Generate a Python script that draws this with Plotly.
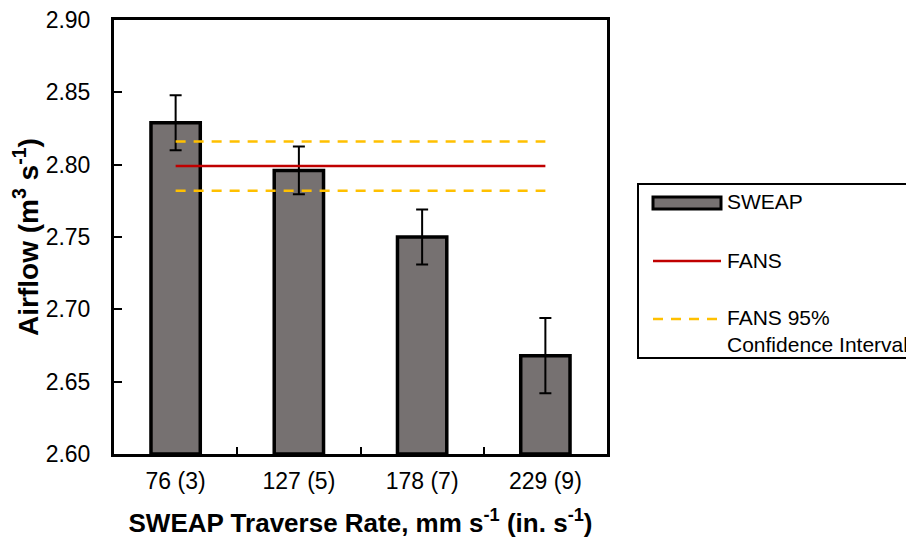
import plotly.graph_objects as go

# ---- data ----
categories = ["76 (3)", "127 (5)", "178 (7)", "229 (9)"]
sweap_airflow = [2.829, 2.796, 2.750, 2.668]
sweap_error = [0.019, 0.0165, 0.019, 0.026]
fans_mean = 2.799
fans_ci_upper = 2.816
fans_ci_lower = 2.782
y_ticks = [2.60, 2.65, 2.70, 2.75, 2.80, 2.85, 2.90]

FONT = "Arial, Liberation Sans, sans-serif"
BAR_FILL = "#767171"
RED = "#C00000"
GOLD = "#FFC000"

OFF = 8  # page body margin
W, H = 914 - OFF, 539 - OFF
# plot area in screen pixels: x 114..607, y 20..454
ML, MT = 114 - OFF, 20 - OFF
MR = W - (607 - OFF)
MB = H - (454 - OFF)
PW, PH = W - ML - MR, H - MT - MB


def px_x(sx):
    return (sx - OFF - ML) / PW


def px_y(sy):
    return (H - MB - (sy - OFF)) / PH


fig = go.Figure()

fig.add_trace(go.Bar(
    x=categories, y=[v - y_ticks[0] for v in sweap_airflow], base=y_ticks[0],
    width=0.40,
    marker=dict(color=BAR_FILL, line=dict(color="black", width=3.5)),
    error_y=dict(type="data", array=sweap_error, visible=True,
                 color="black", thickness=2, width=6),
    name="SWEAP", showlegend=False,
))

line_x = [categories[0], categories[-1]]
fig.add_trace(go.Scatter(x=line_x, y=[fans_mean] * 2, mode="lines",
                         line=dict(color=RED, width=2.5), name="FANS", showlegend=False))
fig.add_trace(go.Scatter(x=line_x, y=[fans_ci_upper] * 2, mode="lines",
                         line=dict(color=GOLD, width=2.5, dash="10px,8px"),
                         name="FANS 95% Confidence Interval", showlegend=False))
fig.add_trace(go.Scatter(x=line_x, y=[fans_ci_lower] * 2, mode="lines",
                         line=dict(color=GOLD, width=2.5, dash="10px,8px"),
                         name="FANS 95% Confidence Interval (lower)", showlegend=False))

fig.update_layout(
    width=W, height=H,
    margin=dict(l=ML, r=MR, t=MT, b=MB, autoexpand=False),
    plot_bgcolor="white", paper_bgcolor="white",
    font=dict(family=FONT, color="black", size=20),
)

fig.update_xaxes(
    type="category", categoryorder="array", categoryarray=categories,
    range=[-0.5, len(categories) - 0.5],
    showline=True, linecolor="black", linewidth=3, mirror=True,
    ticks="inside", tickson="boundaries", ticklen=7, tickwidth=1.5, tickcolor="black",
    tickfont=dict(size=23, family=FONT), ticklabelstandoff=4,
    ticklabeloverflow="allow",
    showgrid=False,
    title=dict(text="<b>SWEAP Traverse Rate, mm s<sup>-1</sup> (in. s<sup>-1</sup>)</b>",
               font=dict(size=26, family=FONT), standoff=22),
)
fig.update_yaxes(
    range=[y_ticks[0], y_ticks[-1]], tickvals=y_ticks,
    ticktext=[f"{v:.2f}" for v in y_ticks],
    showline=True, linecolor="black", linewidth=3, mirror=True,
    ticks="inside", ticklen=8, tickwidth=2, tickcolor="black",
    tickfont=dict(size=23, family=FONT), ticklabelstandoff=16,
    ticklabeloverflow="allow",
    showgrid=False, zeroline=False,
    title=dict(text="<b>Airflow (m<sup>3</sup> s<sup>-1</sup>)</b>",
               font=dict(size=28, family=FONT), standoff=4),
)

# ---- manual legend ----
shapes = [
    dict(type="rect", xref="paper", yref="paper",
         x0=px_x(638), x1=px_x(930), y0=px_y(358), y1=px_y(184),
         line=dict(color="black", width=2), fillcolor="white", layer="below"),
    dict(type="rect", xref="paper", yref="paper",
         x0=px_x(653), x1=px_x(721), y0=px_y(209), y1=px_y(197),
         line=dict(color="black", width=3), fillcolor=BAR_FILL),
    dict(type="line", xref="paper", yref="paper",
         x0=px_x(653), x1=px_x(721), y0=px_y(261), y1=px_y(261),
         line=dict(color=RED, width=2.5)),
    dict(type="line", xref="paper", yref="paper",
         x0=px_x(653), x1=px_x(721), y0=px_y(319), y1=px_y(319),
         line=dict(color=GOLD, width=2.5, dash="10px,8px")),
]
legend_labels = ["SWEAP", "FANS", "FANS 95%<br>Confidence Interval"]
legend_y = [202, 260, 331]
annotations = [
    dict(xref="paper", yref="paper", x=px_x(726), y=px_y(yy), text=t,
         showarrow=False, xanchor="left", yanchor="middle", align="left",
         borderpad=0,
         font=dict(size=21, family=FONT, color="black"))
    for t, yy in zip(legend_labels, legend_y)
]
fig.update_layout(shapes=shapes, annotations=annotations)

fig.write_html("out.html")
